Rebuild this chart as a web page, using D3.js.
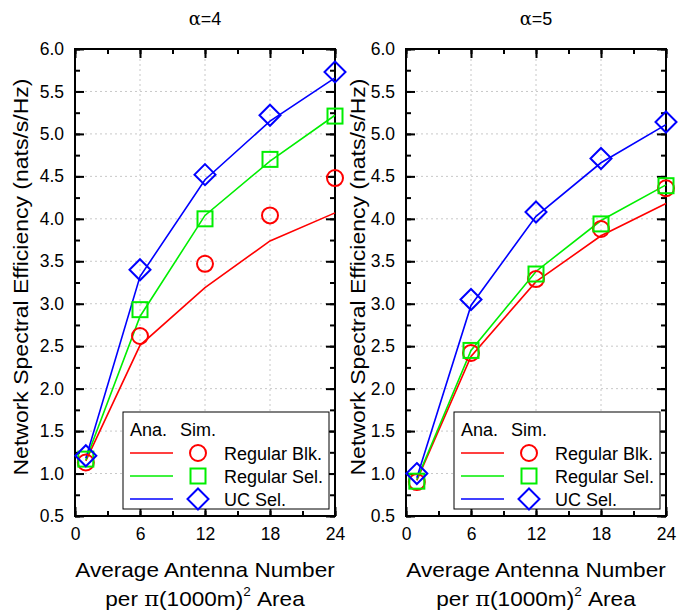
<!DOCTYPE html>
<html>
<head>
<meta charset="utf-8">
<script src="https://cdn.jsdelivr.net/npm/d3@7"></script>
<style>
body{margin:0;background:#fff;}
text{font-family:"Liberation Sans",Arial,sans-serif;fill:#000;}
</style>
</head>
<body>
<script>
var xVals=[1,6,12,18,24];
var panelTitles=["4","5"];
// alpha = 4
var anaBlk4=[1.15,2.51,3.19,3.74,4.07];
var anaSel4=[1.16,2.85,4.04,4.68,5.22];
var anaUC4=[1.18,3.32,4.46,5.15,5.66];
var simBlk4=[1.13,2.62,3.47,4.04,4.48];
var simSel4=[1.17,2.93,4.00,4.70,5.21];
var simUC4=[1.21,3.40,4.52,5.22,5.73];
// alpha = 5
var anaBlk5=[0.92,2.38,3.26,3.80,4.18];
var anaSel5=[0.93,2.45,3.38,3.98,4.40];
var anaUC5=[0.95,2.98,4.03,4.66,5.11];
var simBlk5=[0.90,2.42,3.29,3.88,4.36];
var simSel5=[0.91,2.45,3.35,3.94,4.39];
var simUC5=[1.00,3.05,4.08,4.71,5.14];

var seriesNames=["Regular Blk.","Regular Sel.","UC Sel."];
var colors=["#ff0000","#00ee00","#0000ff"];
var shapes=["circle","square","diamond"];
var xTicks=[0,6,12,18,24];
var yTicks=[0.5,1.0,1.5,2.0,2.5,3.0,3.5,4.0,4.5,5.0,5.5,6.0];

var panels=[
  {left:75,titleX:28,ana:[anaBlk4,anaSel4,anaUC4],sim:[simBlk4,simSel4,simUC4]},
  {left:406,titleX:365,ana:[anaBlk5,anaSel5,anaUC5],sim:[simBlk5,simSel5,simUC5]}
];
var pw=260, plotTop=49, plotBottom=516;

var svg=d3.select("body").append("svg").attr("width",697).attr("height",616);

function marker(g,shape,cx,cy,col){
  if(shape=="circle"){
    g.append("circle").attr("cx",cx).attr("cy",cy).attr("r",8)
      .attr("fill","none").attr("stroke",col).attr("stroke-width",2);
  } else if(shape=="square"){
    g.append("rect").attr("x",cx-7.5).attr("y",cy-7.5).attr("width",15).attr("height",15)
      .attr("fill","none").attr("stroke",col).attr("stroke-width",2);
  } else {
    var s=10.5;
    g.append("path").attr("d","M"+cx+","+(cy-s)+"L"+(cx+s)+","+cy+"L"+cx+","+(cy+s)+"L"+(cx-s)+","+cy+"Z")
      .attr("fill","none").attr("stroke",col).attr("stroke-width",2);
  }
}

panels.forEach(function(p,pi){
  var x=d3.scaleLinear().domain([0,24]).range([p.left,p.left+pw]);
  var y=d3.scaleLinear().domain([0.5,6.0]).range([plotBottom,plotTop]);
  var g=svg.append("g");

  // grid
  g.selectAll(".gx").data([6,12,18]).enter().append("line")
    .attr("x1",function(d){return x(d);}).attr("x2",function(d){return x(d);})
    .attr("y1",plotTop).attr("y2",plotBottom)
    .attr("stroke","#c8c8c8").attr("stroke-width",1).attr("stroke-dasharray","2,3");
  g.selectAll(".gy").data(yTicks.slice(1,-1)).enter().append("line")
    .attr("y1",function(d){return y(d);}).attr("y2",function(d){return y(d);})
    .attr("x1",x(0)).attr("x2",x(24))
    .attr("stroke","#c8c8c8").attr("stroke-width",1).attr("stroke-dasharray","2,3");

  // axes, ticks pointing in
  var xMinor=d3.range(0,25,3), yMinor=d3.range(0.5,6.01,0.25);
  function axisStyle(sel){sel.select(".domain").remove();sel.selectAll("line").attr("stroke","#000").attr("stroke-width",2);}
  g.append("g").attr("transform","translate(0,"+plotBottom+")")
    .call(d3.axisBottom(x).tickValues(xMinor).tickSize(-5).tickFormat(""))
    .call(axisStyle);
  g.append("g").attr("transform","translate(0,"+plotBottom+")")
    .call(d3.axisBottom(x).tickValues(xTicks).tickSize(-9).tickPadding(12).tickFormat(d3.format("d")))
    .call(axisStyle)
    .selectAll("text").attr("font-size",17.5).attr("font-family","Liberation Sans, Arial").attr("fill","#000");
  g.append("g").attr("transform","translate(0,"+plotTop+")")
    .call(d3.axisTop(x).tickValues(xMinor).tickSize(-5).tickFormat("")).call(axisStyle);
  g.append("g").attr("transform","translate(0,"+plotTop+")")
    .call(d3.axisTop(x).tickValues(xTicks).tickSize(-9).tickFormat("")).call(axisStyle);
  g.append("g").attr("transform","translate("+x(0)+",0)")
    .call(d3.axisLeft(y).tickValues(yMinor).tickSize(-5).tickFormat("")).call(axisStyle);
  g.append("g").attr("transform","translate("+x(0)+",0)")
    .call(d3.axisLeft(y).tickValues(yTicks).tickSize(-9).tickPadding(11).tickFormat(d3.format(".1f")))
    .call(axisStyle)
    .selectAll("text").attr("font-size",17.5).attr("font-family","Liberation Sans, Arial").attr("fill","#000");
  g.append("g").attr("transform","translate("+x(24)+",0)")
    .call(d3.axisRight(y).tickValues(yMinor).tickSize(-5).tickFormat("")).call(axisStyle);
  g.append("g").attr("transform","translate("+x(24)+",0)")
    .call(d3.axisRight(y).tickValues(yTicks).tickSize(-9).tickFormat("")).call(axisStyle);

  g.append("rect").attr("x",x(0)).attr("y",plotTop).attr("width",pw).attr("height",plotBottom-plotTop)
    .attr("fill","none").attr("stroke","#000").attr("stroke-width",2);

  // analytic lines
  var line=d3.line().x(function(d,i){return x(xVals[i]);}).y(function(d){return y(d);});
  p.ana.forEach(function(s,si){
    g.append("path").datum(s).attr("d",line).attr("fill","none")
      .attr("stroke",colors[si]).attr("stroke-width",1.6);
  });
  // simulation markers
  p.sim.forEach(function(s,si){
    s.forEach(function(v,i){ marker(g,shapes[si],x(xVals[i]),y(v),colors[si]); });
  });

  // legend
  var lx=x(0)+48, ly=412;
  var lg=g.append("g");
  lg.append("rect").attr("x",lx).attr("y",ly).attr("width",206).attr("height",97)
    .attr("fill","#fff").attr("stroke","#000").attr("stroke-width",1);
  lg.append("text").attr("x",lx+7).attr("y",ly+24).attr("font-size",18).text("Ana.");
  lg.append("text").attr("x",lx+57).attr("y",ly+24).attr("font-size",18).text("Sim.");
  seriesNames.forEach(function(n,i){
    var cy=ly+41+i*23;
    lg.append("line").attr("x1",lx+7).attr("x2",lx+50).attr("y1",cy).attr("y2",cy)
      .attr("stroke",colors[i]).attr("stroke-width",1.6);
    marker(lg,shapes[i],lx+75,cy,colors[i]);
    lg.append("text").attr("x",lx+101).attr("y",cy+7).attr("font-size",18).text(n);
  });

  // titles
  var cx=x(12);
  var t=g.append("text").attr("x",cx).attr("y",25).attr("text-anchor","middle").attr("font-size",18);
  t.append("tspan").attr("font-family","DejaVu Serif, serif").text("\u03b1");
  t.append("tspan").text("="+panelTitles[pi]);
  g.append("text").attr("transform","translate("+cx+",577) scale(1.13,1)")
    .attr("text-anchor","middle").attr("font-size",20)
    .text("Average Antenna Number");
  var t2=g.append("text").attr("transform","translate("+cx+",606) scale(1.13,1)")
    .attr("text-anchor","middle").attr("font-size",20);
  t2.append("tspan").text("per ");
  t2.append("tspan").attr("font-family","DejaVu Serif, serif").text("\u03c0");
  t2.append("tspan").text("(1000m)");
  t2.append("tspan").attr("font-size",12).attr("dy",-10).text("2");
  t2.append("tspan").attr("dy",10).text(" Area");
  g.append("text").attr("transform","translate("+p.titleX+",277) rotate(-90) scale(1.18,1)")
    .attr("text-anchor","middle").attr("font-size",19.5)
    .text("Network Spectral Efficiency (nats/s/Hz)");
});
</script>
</body>
</html>
